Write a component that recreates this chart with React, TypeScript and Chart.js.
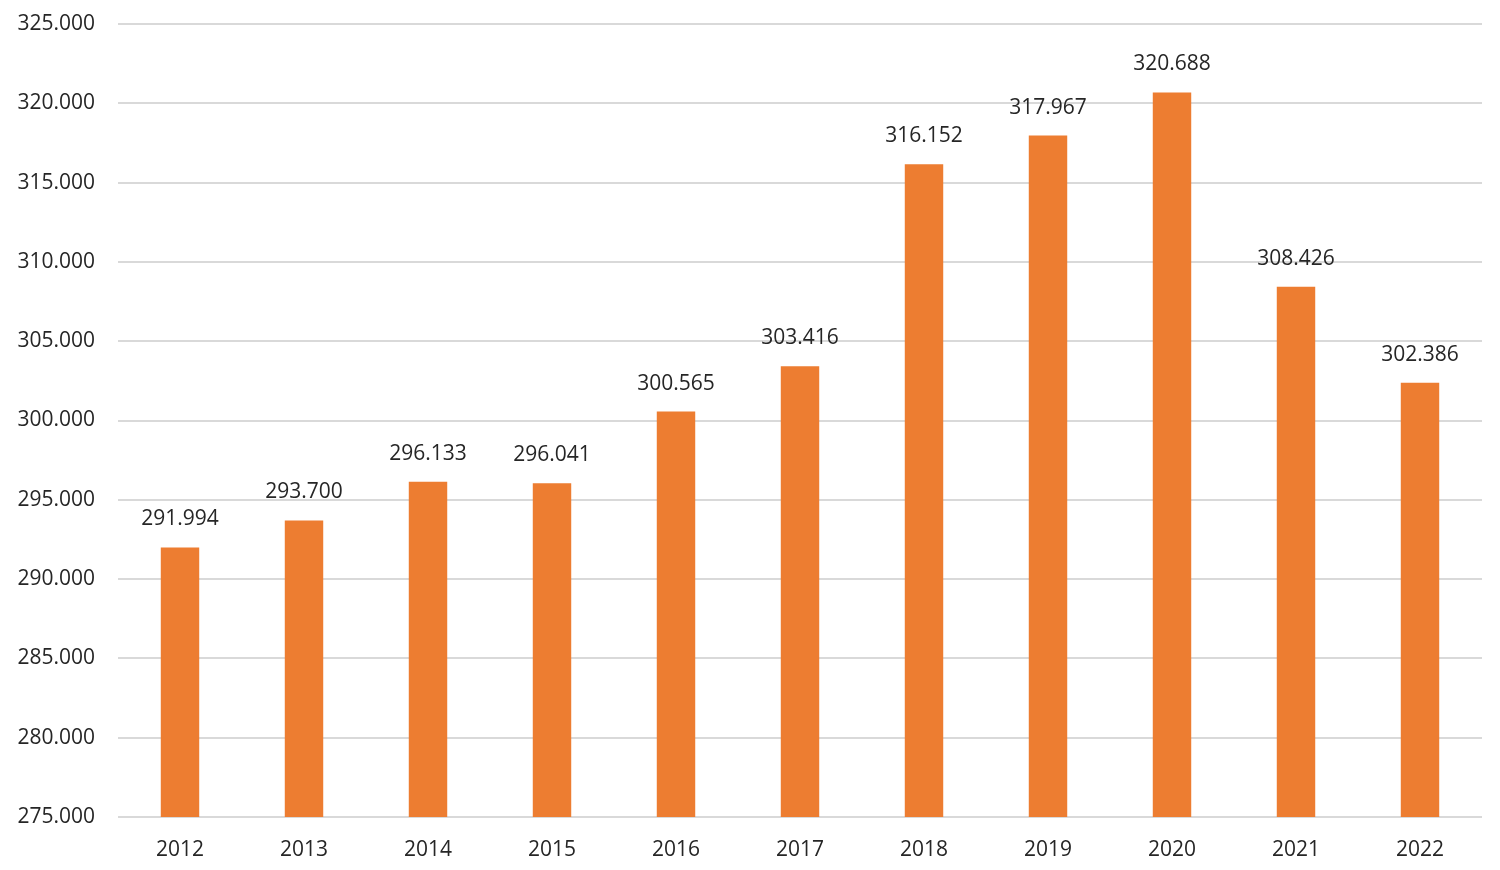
import { useEffect, useRef } from "react"
import { Chart, registerables } from "chart.js"
import type { Plugin } from "chart.js"

Chart.register(...registerables)

const years = ["2012", "2013", "2014", "2015", "2016", "2017", "2018", "2019", "2020", "2021", "2022"]
const values = [291994, 293700, 296133, 296041, 300565, 303416, 316152, 317967, 320688, 308426, 302386]

const FONT = "'Open Sans', 'Liberation Sans', sans-serif"
const TEXT = "#262626"

// 291994 -> "291.994"
function fmt(v: number) {
  const s = Math.round(v).toString()
  return s.replace(/\B(?=(\d{3})+(?!\d))/g, ".")
}

const valueLabels: Plugin<"bar"> = {
  id: "valueLabels",
  afterDatasetsDraw(chart) {
    const ctx = chart.ctx
    const meta = chart.getDatasetMeta(0)
    ctx.save()
    ctx.font = `21px ${FONT}`
    ctx.fillStyle = TEXT
    ctx.textAlign = "center"
    ctx.textBaseline = "middle"
    meta.data.forEach((bar, i) => {
      ctx.fillText(fmt(values[i]), bar.x, bar.y - 28)
    })
    ctx.restore()
  },
}

export default function App() {
  const chartRef = useRef<HTMLCanvasElement>(null)
  const chartInstance = useRef<Chart | null>(null)

  useEffect(() => {
    if (!chartRef.current) return

    if (chartInstance.current) {
      chartInstance.current.destroy()
    }

    const ctx = chartRef.current.getContext("2d")
    if (!ctx) return

    chartInstance.current = new Chart(ctx, {
      type: "bar",
      data: {
        labels: years,
        datasets: [
          {
            data: values,
            backgroundColor: "#ED7D31",
            borderWidth: 0,
            categoryPercentage: 1,
            barPercentage: 0.31,
          },
        ],
      },
      options: {
        animation: false,
        responsive: true,
        maintainAspectRatio: false,
        layout: {
          padding: { left: 0, right: 18, top: 24, bottom: 0 },
        },
        plugins: {
          legend: { display: false },
          tooltip: { enabled: false },
        },
        scales: {
          y: {
            min: 275000,
            max: 325000,
            afterFit: (scale) => {
              scale.width = 118
              scale.paddingTop = 0
            },
            ticks: {
              stepSize: 5000,
              color: TEXT,
              font: { family: FONT, size: 21 },
              padding: 23,
              callback: (v) => fmt(Number(v)),
            },
            grid: { color: "#D9D9D9", lineWidth: 2, drawTicks: false },
            border: { display: false },
          },
          x: {
            afterFit: (scale) => {
              scale.height = 53
            },
            ticks: {
              color: TEXT,
              font: { family: FONT, size: 21 },
              padding: 20,
            },
            grid: { display: false, drawTicks: false },
            border: { display: false },
          },
        },
      },
      plugins: [valueLabels],
    })

    return () => {
      if (chartInstance.current) {
        chartInstance.current.destroy()
        chartInstance.current = null
      }
    }
  }, [])

  return (
    <div style={{ position: "fixed", left: 0, top: 0, width: 1500, height: 870, background: "#fff" }}>
      <canvas ref={chartRef} />
    </div>
  )
}
